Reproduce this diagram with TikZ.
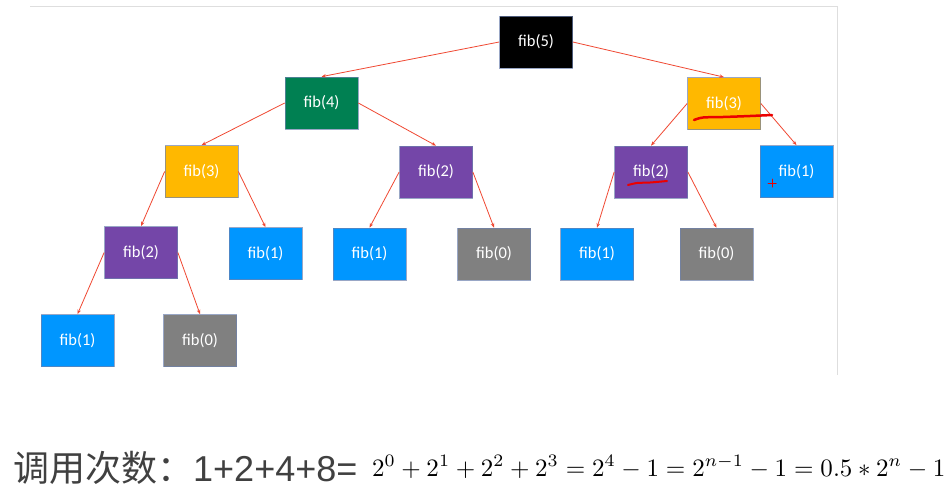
\documentclass[tikz,border=0pt]{standalone}
\usepackage[no-math]{fontspec}
\usepackage{graphicx}
\setmainfont{Carlito}
\newfontfamily\cjkfont{Noto Sans CJK SC}
\newfontfamily\arialfont{Liberation Sans}
\usetikzlibrary{arrows.meta}
\definecolor{cblack}{RGB}{0,0,0}
\definecolor{cgreen}{RGB}{0,128,82}
\definecolor{corange}{RGB}{255,184,0}
\definecolor{cpurple}{RGB}{116,70,168}
\definecolor{cblue}{RGB}{0,150,255}
\definecolor{cgray}{RGB}{128,128,128}
\definecolor{boxline}{RGB}{110,130,175}
\definecolor{edgered}{RGB}{240,72,50}
\definecolor{redpen}{RGB}{235,0,0}
\definecolor{framegray}{RGB}{222,222,222}
\definecolor{textgray}{RGB}{64,64,64}
\begin{document}
\begin{tikzpicture}[x=1pt,y=-1pt,
  fibbox/.style={draw=boxline, draw opacity=0.7, line width=0.7pt,
    minimum width=73pt, minimum height=52pt, inner sep=0pt,
    text=white, font=\fontsize{16.5}{18}\selectfont},
  edge/.style={draw=edgered, line width=0.8pt,
    -{Stealth[length=4.5pt,width=3.5pt]}},
  redstroke/.style={draw=redpen, line cap=round, line join=round}
]
\useasboundingbox (0,0) rectangle (952,496);
\fill[white] (0,0) rectangle (952,496);
% frame
\draw[framegray, line width=1pt] (30,6) -- (837,6) -- (837,375);
% nodes
\node[fibbox, fill=cblack]  (n5)  at (536,42)      {fib(5)};
\node[fibbox, fill=cgreen]  (n4)  at (321.5,103)   {fib(4)};
\node[fibbox, fill=corange] (n3r) at (724,103.5)   {fib(3)};
\node[fibbox, fill=corange] (n3l) at (201.5,171.5) {fib(3)};
\node[fibbox, fill=cpurple] (n2m) at (436,172)     {fib(2)};
\node[fibbox, fill=cpurple] (n2r) at (651,172)     {fib(2)};
\node[fibbox, fill=cblue]   (n1r) at (796.5,171.5) {fib(1)};
\node[fibbox, fill=cpurple] (n2l) at (141,252.5)   {fib(2)};
\node[fibbox, fill=cblue]   (n1a) at (265.5,253.5) {fib(1)};
\node[fibbox, fill=cblue]   (n1b) at (369.5,254)   {fib(1)};
\node[fibbox, fill=cgray]   (n0a) at (494,254)     {fib(0)};
\node[fibbox, fill=cblue]   (n1c) at (597,254)     {fib(1)};
\node[fibbox, fill=cgray]   (n0b) at (716.5,254)   {fib(0)};
\node[fibbox, fill=cblue]   (n1d) at (77.5,340.5)  {fib(1)};
\node[fibbox, fill=cgray]   (n0c) at (200,340.5)   {fib(0)};
% edges
\draw[edge] (n5.west)  -- (n4.north);
\draw[edge] (n5.east)  -- (n3r.north);
\draw[edge] (n4.west)  -- (n3l.north);
\draw[edge] (n4.east)  -- (n2m.north);
\draw[edge] (n3r.west) -- (n2r.north);
\draw[edge] (n3r.east) -- (n1r.north);
\draw[edge] (n3l.west) -- (n2l.north);
\draw[edge] (n3l.east) -- (n1a.north);
\draw[edge] (n2m.west) -- (n1b.north);
\draw[edge] (n2m.east) -- (n0a.north);
\draw[edge] (n2r.west) -- (n1c.north);
\draw[edge] (n2r.east) -- (n0b.north);
\draw[edge] (n2l.west) -- (n1d.north);
\draw[edge] (n2l.east) -- (n0c.north);
% hand-drawn red marks
\draw[redstroke, line width=2.5pt] plot[smooth] coordinates {(694,120) (703,117.5) (723,117) (750,116) (772,115)};
\draw[redstroke, line width=2pt] plot[smooth] coordinates {(628,185) (637,183) (650,182.5) (667,181)};
\draw[redstroke, line width=1pt] (768,183) -- (776,183) (772,179) -- (772,187);
% bottom text
\node[anchor=base west, inner sep=0pt, text=textgray] (label) at (13,481)
  {\cjkfont\fontsize{36}{40}\selectfont 调用次数：\arialfont 1+2+4+8=};
\node[anchor=base west, inner sep=0pt] (formula) at (372,476)
  {\resizebox{573pt}{!}{$2^0+2^1+2^2+2^3=2^4-1=2^{n-1}-1=0.5*2^n-1$}};
\end{tikzpicture}
\end{document}
